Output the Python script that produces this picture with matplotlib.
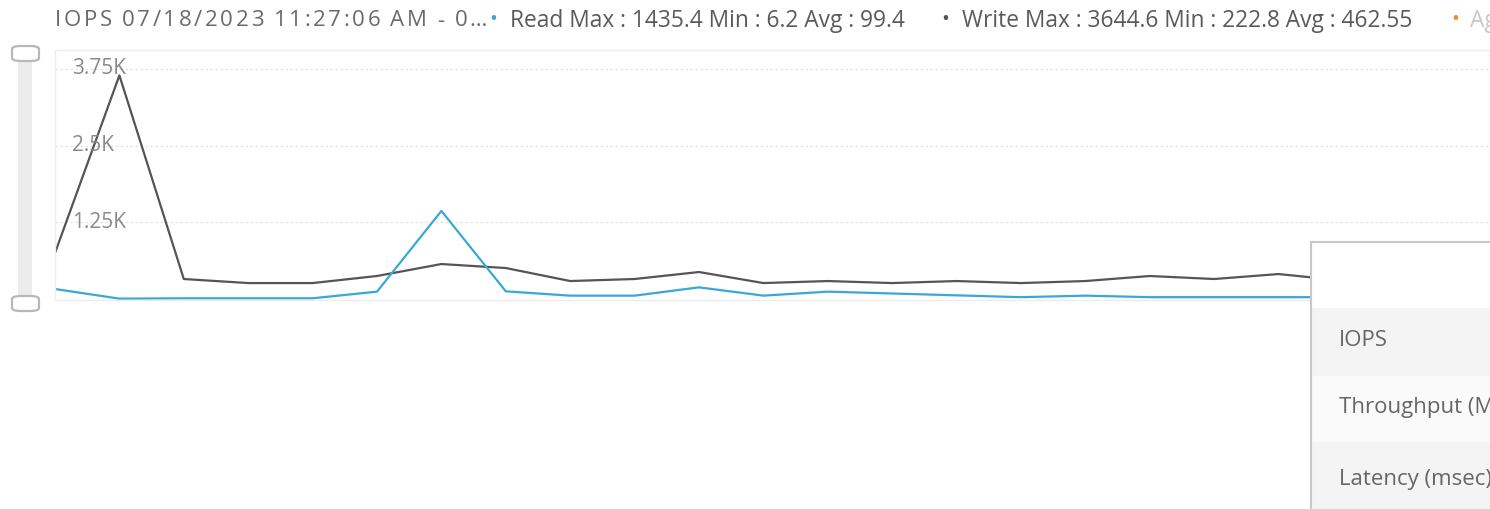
import matplotlib
matplotlib.use("Agg")
import matplotlib.pyplot as plt
from matplotlib.patches import Rectangle, FancyBboxPatch

plt.rcParams['font.family'] = ['Open Sans', 'DejaVu Sans']

W, H = 1490, 509

# data
read_vals = [163, 6.2, 12, 12, 12, 120, 1435.4, 125, 55, 55, 190, 55, 120, 90, 60, 30, 55, 30, 30, 30, 30, 30, 30, 30]
write_vals = [750, 3644.6, 326, 260, 260, 375, 570, 505, 293, 326, 440, 260, 293, 260, 293, 260, 293, 375, 326, 407, 300, 290, 300, 300]
ytick_vals = [1250, 2500, 3750]
ytick_labels = ['1.25K', '2.5K', '3.75K']
title_txt = 'IOPS 07/18/2023 11:27:06 AM - 0…'
read_txt = 'Read Max : 1435.4 Min : 6.2 Avg : 99.4'
write_txt = 'Write Max : 3644.6 Min : 222.8 Avg : 462.55'
third_txt = 'Aggregate'
menu_items = ['IOPS', 'Throughput (MB/sec)', 'Latency (msec)']

blue = '#3aa8d6'
dark = '#555555'

fig = plt.figure(figsize=(W / 100, H / 100), dpi=100)

def px(x, y):
    return x / W, 1 - y / H

# main plot
l, t = px(55, 50)
_, b = px(55, 300)
ax = fig.add_axes([l, b, 1 - l, t - b])
x = list(range(len(read_vals)))
ax.plot(x, write_vals, color=dark, lw=1.6)
ax.plot(x, read_vals, color=blue, lw=1.6)
ax.set_xlim(0, (W - 55) / 64.4)
ax.set_ylim(-16, 4058)
for v, lab in zip(ytick_vals, ytick_labels):
    ax.axhline(v, color='#e2e2e2', lw=0.9, ls=(0, (2, 2)), zorder=0)
    ax.text(17 / (W - 55), v, lab, transform=ax.get_yaxis_transform(),
            ha='left', va='center', fontsize=15, color='#8a8a8a')
ax.set_xticks([])
ax.set_yticks([])
for s in ax.spines.values():
    s.set_color('#ececec')
    s.set_linewidth(1)

# left range slider
fig.patches.append(Rectangle(px(18, 300), 14 / W, 245 / H, transform=fig.transFigure,
                             facecolor='#ececec', edgecolor='none'))
for yy in [45, 295]:
    fig.patches.append(FancyBboxPatch(px(12, yy + 16), 27 / W, 15 / H, transform=fig.transFigure,
                                      boxstyle='round,pad=0,rounding_size=0.006',
                                      facecolor='white', edgecolor='#b8b8b8', lw=1.6, zorder=5))

# header - title is letter spaced, so place it char by char
renderer = fig.canvas.get_renderer()
cx = 55
for ch in title_txt:
    tt = fig.text(*px(cx, 21), ch, fontsize=16, color='#6a6a6a', va='center', ha='left')
    w = tt.get_window_extent(renderer).width if ch != ' ' else 5.0
    cx += w + 2.6
fig.text(*px(493, 19), '•', fontsize=15, color=blue, va='center', ha='center')
fig.text(*px(510, 21), read_txt, fontsize=16.4, color='#5a5a5a', va='center', ha='left')
fig.text(*px(945, 19), '•', fontsize=15, color=dark, va='center', ha='center')
fig.text(*px(962, 21), write_txt, fontsize=16.4, color='#5a5a5a', va='center', ha='left')
fig.text(*px(1455, 19), '•', fontsize=15, color='#f5892b', va='center', ha='center')
fig.text(*px(1470, 21), third_txt, fontsize=16.4, color='#c8c8c8', va='center', ha='left')

# popup menu
pl, pb = px(1311, 520)
_, pt = px(1311, 242)
pop = fig.add_axes([pl, pb, 1 - pl + 0.05, pt - pb], zorder=10)
pop.set_xlim(0, 1)
pop.set_ylim(520, 242)
pop.set_xticks([])
pop.set_yticks([])
for s in pop.spines.values():
    s.set_color('#c8c8c8')
    s.set_linewidth(1.5)
rows = [(308, 376, '#f4f4f4'), (376, 442, '#fafafa'), (442, 520, '#f4f4f4')]
for (y0, y1, c), item in zip(rows, menu_items):
    pop.axhspan(y0, y1, color=c, lw=0)
    pop.text(25 / 230, (y0 + y1) / 2 - 2, item, fontsize=16, color='#666666', va='center', ha='left')

fig.savefig('out.png', dpi=100)
